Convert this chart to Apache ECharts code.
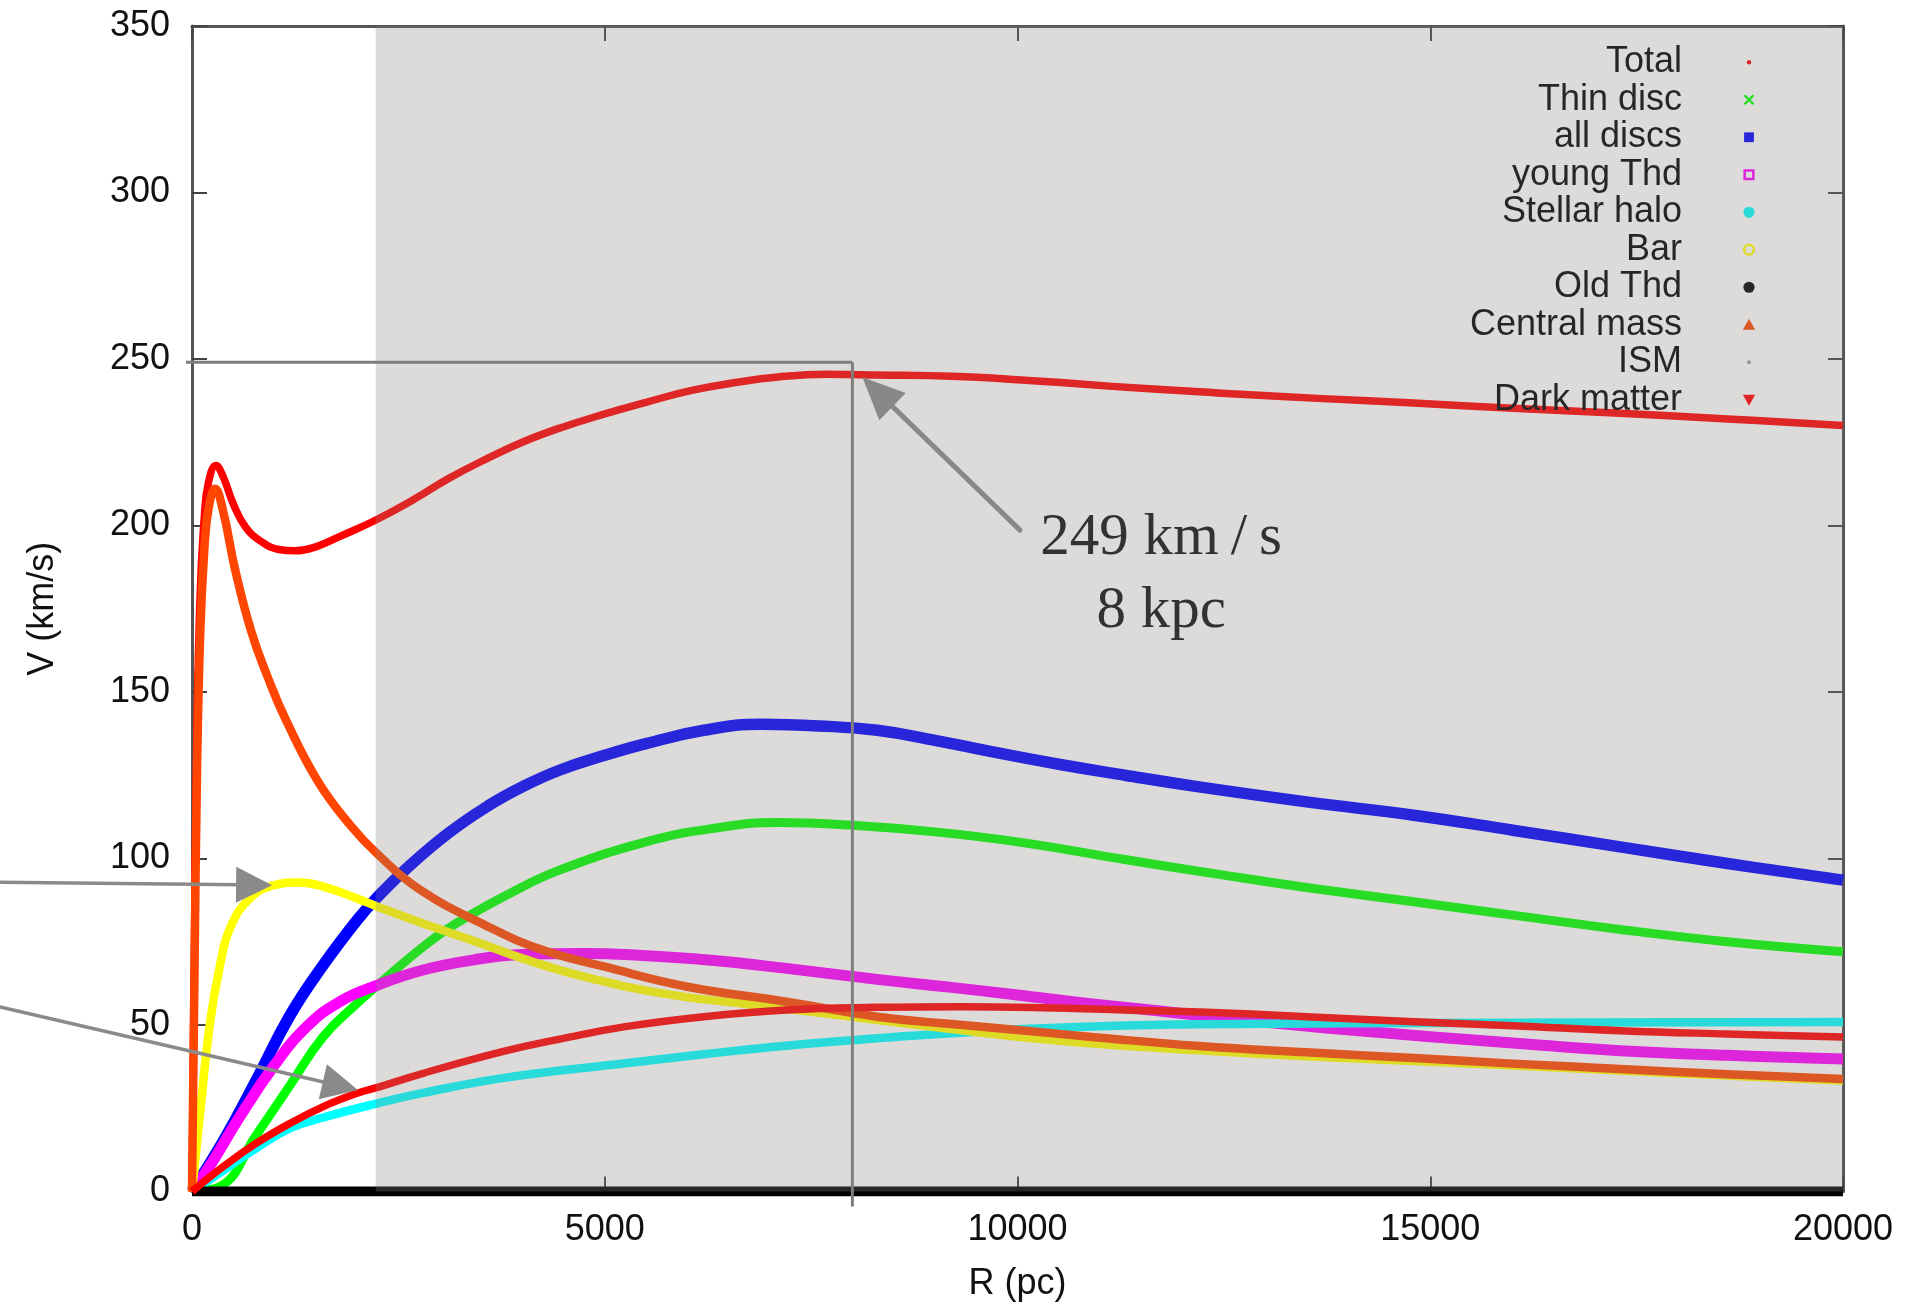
<!DOCTYPE html>
<html>
<head>
<meta charset="utf-8">
<title>Rotation curve components</title>
<script src="https://cdn.jsdelivr.net/npm/echarts@6/dist/echarts.min.js"></script>
<style>
  html, body { margin: 0; padding: 0; background: #ffffff; }
  #chart { width: 1920px; height: 1305px; }
</style>
</head>
<body>
<div id="chart"></div>
<script>
// Circular velocity V (km/s) against galactocentric radius R (pc), one [R, V] list per component.
const total = [[0,0],[30,75],[60,140],[100,180],[150,203],[200,213],[290,218],[380,214.5],[500,206.5],[650,199.5],[850,195],[1050,192.8],[1250,192.4],[1500,193.6],[1800,196.8],[2240,201.8],[2700,208],[3100,214],[3550,219.8],[4000,225],[4460,229.3],[5000,233.5],[5500,237],[6040,240.5],[6600,243],[7100,244.6],[7700,245.4],[8300,245.2],[9200,244.8],[10000,243.8],[10800,242.4],[11500,241.2],[12200,240.2],[12700,239.4],[13700,238.1],[14800,236.8],[16000,235.2],[17300,233.7],[18600,232],[20000,230]];
const thinDisc = [[0,0],[340,1.5],[780,17],[1190,32],[1590,46.5],[2000,56.5],[2250,62],[2800,73.5],[3200,80.5],[3850,89.5],[4450,96.5],[5500,105],[6300,109],[7100,110.8],[8000,110],[9000,108],[10000,105],[11300,99.7],[12500,95],[13500,91.3],[14800,87],[16000,83],[17300,78.7],[18600,75],[20000,72]];
const allDiscs = [[0,0],[400,16],[780,33.5],[1190,53],[1590,68],[2000,81.5],[2250,88.5],[2600,97],[3100,107.5],[3600,116],[4000,121.5],[4450,126.5],[5000,131],[5500,134.5],[6200,138.5],[6900,140.3],[7600,139.8],[8300,138.5],[9000,135.5],[9700,132],[10500,128.3],[11300,125],[12200,121.5],[13500,117],[14800,113],[16000,108.5],[17300,103.5],[18600,98.5],[20000,93.5]];
const youngThd = [[0,0],[250,9],[580,22.5],[985,37.5],[1390,49.5],[1790,57],[2250,62],[2800,66.5],[3400,69.5],[4000,71.2],[4750,71.5],[5500,70.8],[6250,69.5],[7200,67],[8300,63.7],[9200,61.3],[10000,59],[10800,56.6],[11800,54],[12700,51.6],[13700,49.2],[15000,46.5],[16200,44.2],[17300,42.3],[18600,40.9],[20000,39.8]];
const stellarHalo = [[0,0],[380,6.3],[780,13],[1190,19],[1600,22.3],[2250,26.5],[2800,29.6],[3800,34.2],[5250,38.5],[6300,41.5],[7200,43.8],[8300,46],[9200,47.5],[10000,48.7],[11000,49.6],[12200,50.2],[14000,50.5],[16000,50.7],[18000,50.8],[20000,50.9]];
const bar = [[0,0],[100,24],[220,51],[340,68],[460,79],[700,88],[1000,92],[1300,92.8],[1600,91.5],[2000,88],[2250,85.5],[2800,80.5],[3500,74.5],[4000,70],[4750,64.5],[5700,59.5],[6700,56.3],[7500,54],[8300,51.5],[9200,48.8],[10000,46.5],[11000,44.3],[12200,42.4],[13500,40.6],[14800,39.2],[16000,37.8],[17300,36.3],[18600,34.8],[20000,33.3]];
const oldThd = [[0,0],[20000,0]];
const centralMass = [[0,0],[30,65],[60,125],[100,168],[150,193],[200,205],[280,211],[380,204],[520,187],[720,168],[925,154],[1130,142],[1530,123],[1935,109.5],[2240,101.5],[2740,91],[3550,80],[4250,72.5],[5000,67.5],[6000,61.5],[7200,57],[8300,52.5],[9200,50.3],[10000,48.5],[11000,46.2],[12200,43.7],[13500,41.8],[14800,40.1],[16000,38.4],[17300,36.8],[18600,35.2],[20000,33.8]];
const ism = [[0,0],[20000,0]];
const darkMatter = [[0,0],[380,7.5],[780,14.5],[1190,20.5],[1590,25.5],[2000,29.5],[2280,31.5],[2800,35.5],[3760,42],[4500,46],[5250,49.5],[6200,52.5],[7200,54.5],[8300,55.3],[9300,55.5],[10300,55.2],[11300,54.5],[12300,53.8],[13500,52.5],[14800,51],[16000,49.8],[17300,48.3],[18600,47.3],[20000,46.4]];

// Axis ranges and ticks
const R_MIN = 0, R_MAX = 20000, R_STEP = 5000;
const V_MIN = 0, V_MAX = 350, V_STEP = 50;

// Shaded radial range (outer Galaxy)
const shadeRange = [[2225, 20000]];

// Solar circle marker: radius (pc) and circular speed (km/s)
const SUN_R = 8000;
const SUN_V = 249;
const sunNote = [SUN_V + ' km\u2009/\u2009s', (SUN_R / 1000) + ' kpc'];
const sunNoteAt = [[11740, 185]];          // centre of the two-line note
const sunArrowFrom = [10030, 198.6];       // tail of the arrow pointing at the marker

// Arrows coming in from the left margin: [R0, V0, R1, V1] (tail -> head)
const sideArrows = [
  [-2326, 92.9, 970, 92],      // at the bar peak
  [-2326, 55.4, 2010, 30.5]    // at the dark matter curve
];

const FONT = '"Liberation Sans", Arial, Helvetica, sans-serif';
const SERIF = '"Liberation Serif", "DejaVu Serif", serif';

const components = [
  { name: 'Total',        data: total,       color: '#ff0000', width: 7.5 },
  { name: 'Thin disc',    data: thinDisc,    color: '#00ff00', width: 9 },
  { name: 'all discs',    data: allDiscs,    color: '#0000ff', width: 11.5 },
  { name: 'young Thd',    data: youngThd,    color: '#ff00ff', width: 11 },
  { name: 'Stellar halo', data: stellarHalo, color: '#00ffff', width: 8.5 },
  { name: 'Bar',          data: bar,         color: '#ffff00', width: 8.5 },
  { name: 'Old Thd',      data: oldThd,      color: '#000000', width: 10 },
  { name: 'Central mass', data: centralMass, color: '#ff4500', width: 8.5 },
  { name: 'ISM',          data: ism,         color: '#9a9a9a', width: 2 },
  { name: 'Dark matter',  data: darkMatter,  color: '#ff0000', width: 7.5 }
];

// Small point-style legend keys; the M0,0 M10,10 moves fix a common 10x10 frame.
const FRAME = 'path://M0,0M10,10';
const legendIcons = {
  'Total':        FRAME + 'M3.4,5A1.6,1.6 0 1,1 6.6,5A1.6,1.6 0 1,1 3.4,5Z',
  'Thin disc':    FRAME + 'M1.2,2.4L2.4,1.2L5,3.8L7.6,1.2L8.8,2.4L6.2,5L8.8,7.6L7.6,8.8L5,6.2L2.4,8.8L1.2,7.6L3.8,5Z',
  'all discs':    FRAME + 'M1.5,1.5L8.5,1.5L8.5,8.5L1.5,8.5Z',
  'young Thd':    FRAME + 'M1,1L9,1L9,9L1,9ZM2.8,2.8L2.8,7.2L7.2,7.2L7.2,2.8Z',
  'Stellar halo': FRAME + 'M1,5A4,4 0 1,1 9,5A4,4 0 1,1 1,5Z',
  'Bar':          FRAME + 'M0.6,5A4.4,4.4 0 1,1 9.4,5A4.4,4.4 0 1,1 0.6,5ZM2.4,5A2.6,2.6 0 1,0 7.6,5A2.6,2.6 0 1,0 2.4,5Z',
  'Old Thd':      FRAME + 'M1,5A4,4 0 1,1 9,5A4,4 0 1,1 1,5Z',
  'Central mass': FRAME + 'M5,0.8L9.4,8.6L0.6,8.6Z',
  'ISM':          FRAME + 'M3.6,5A1.4,1.4 0 1,1 6.4,5A1.4,1.4 0 1,1 3.6,5Z',
  'Dark matter':  FRAME + 'M0.6,1.4L9.4,1.4L5,9.2Z'
};

const lineSeries = components.map((c, i) => ({
  type: 'line',
  name: c.name,
  data: c.data,
  showSymbol: false,
  symbol: 'none',
  smooth: 0.45,
  silent: true,
  z: c.name === 'ISM' ? 2 : 3 + i,
  lineStyle: { color: c.color, width: c.width, cap: 'butt', join: 'round' },
  itemStyle: { color: c.color },
  emphasis: { disabled: true }
}));

const ARROW_GREY = '#8a8a8a';

function arrowShapes(a, b, shaftWidth, headLen, headHalf) {
  const dx = b[0] - a[0], dy = b[1] - a[1];
  const len = Math.hypot(dx, dy);
  const ux = dx / len, uy = dy / len;
  const nx = -uy, ny = ux;
  const bx = b[0] - ux * headLen, by = b[1] - uy * headLen;
  return [
    { type: 'line', shape: { x1: a[0], y1: a[1], x2: bx + ux * 4, y2: by + uy * 4 },
      style: { stroke: ARROW_GREY, lineWidth: shaftWidth, lineCap: 'round' } },
    { type: 'polygon', shape: { points: [[b[0], b[1]], [bx + nx * headHalf, by + ny * headHalf], [bx - nx * headHalf, by - ny * headHalf]] },
      style: { fill: ARROW_GREY } }
  ];
}

const plainNumber = v => String(v);
const TEXT_COLOR = '#111111';

const option = {
  animation: false,
  backgroundColor: '#ffffff',
  grid: { left: 192, right: 77, top: 26, bottom: 113.5, containLabel: false, outerBoundsMode: 'none' },
  legend: {
    orient: 'vertical',
    align: 'right',
    right: 164,
    top: 43.5,
    padding: 0,
    itemGap: 0,
    itemWidth: 14,
    itemHeight: 14,
    z: 4,
    selectedMode: false,
    textStyle: { fontFamily: FONT, fontSize: 36, color: '#000000', lineHeight: 37.5, padding: [0, 55, 0, 0] },
    data: components.map(c => ({ name: c.name, icon: legendIcons[c.name], itemStyle: { color: c.color } }))
  },
  xAxis: [
    {
      type: 'value', min: R_MIN, max: R_MAX, interval: R_STEP, position: 'bottom',
      name: 'R (pc)', nameLocation: 'middle', nameGap: 75, nameMoveOverlap: false,
      nameTextStyle: { fontFamily: FONT, fontSize: 36, color: TEXT_COLOR },
      axisLine: { show: true, onZero: false, lineStyle: { color: '#555555', width: 3 } },
      axisTick: { show: true, inside: true, length: 15, lineStyle: { color: '#444444', width: 2 } },
      axisLabel: { margin: 21, fontFamily: FONT, fontSize: 36, color: TEXT_COLOR, formatter: plainNumber, showMinLabel: true, showMaxLabel: true },
      splitLine: { show: false }
    },
    {
      type: 'value', min: R_MIN, max: R_MAX, interval: R_STEP, position: 'top',
      axisLine: { show: true, onZero: false, lineStyle: { color: '#555555', width: 3 } },
      axisTick: { show: true, inside: true, length: 15, lineStyle: { color: '#444444', width: 2 } },
      axisLabel: { show: false },
      splitLine: { show: false }
    }
  ],
  yAxis: [
    {
      type: 'value', min: V_MIN, max: V_MAX, interval: V_STEP, position: 'left',
      name: 'V (km/s)', nameLocation: 'middle', nameGap: 131, nameMoveOverlap: false,
      nameTextStyle: { fontFamily: FONT, fontSize: 36, color: TEXT_COLOR },
      axisLine: { show: true, onZero: false, lineStyle: { color: '#555555', width: 3 } },
      axisTick: { show: true, inside: true, length: 15, lineStyle: { color: '#444444', width: 2 } },
      axisLabel: { margin: 22, fontFamily: FONT, fontSize: 36, color: TEXT_COLOR, formatter: plainNumber, showMinLabel: true, showMaxLabel: true },
      splitLine: { show: false }
    },
    {
      type: 'value', min: V_MIN, max: V_MAX, interval: V_STEP, position: 'right',
      axisLine: { show: true, onZero: false, lineStyle: { color: '#555555', width: 3 } },
      axisTick: { show: true, inside: true, length: 15, lineStyle: { color: '#444444', width: 2 } },
      axisLabel: { show: false },
      splitLine: { show: false }
    }
  ],
  series: lineSeries.concat([
    {
      // arrows entering from the left margin
      type: 'custom', name: 'side arrows', data: sideArrows, clip: false, silent: true, z: 15,
      encode: { x: [0, 2], y: [1, 3] },
      renderItem: (params, api) => {
        const a = api.coord([api.value(0), api.value(1)]);
        const b = api.coord([api.value(2), api.value(3)]);
        return { type: 'group', children: arrowShapes(a, b, 3.5, 36, 18) };
      }
    },
    {
      // solar circle cross-hair with its pointer arrow
      type: 'custom', name: 'sun marker', data: [[SUN_R, SUN_V]], clip: false, silent: true, z: 15,
      renderItem: (params, api) => {
        const r = api.value(0), v = api.value(1);
        const p = api.coord([r, v]);
        const axisLeft = api.coord([R_MIN, v]);
        const axisBottom = api.coord([r, V_MIN]);
        const tail = api.coord(sunArrowFrom);
        const tip = [p[0] + 10, p[1] + 15];
        const lineStyle = { stroke: '#7d7d7d', lineWidth: 3 };
        return {
          type: 'group',
          children: [
            { type: 'line', shape: { x1: axisLeft[0] - 6, y1: p[1], x2: p[0], y2: p[1] }, style: lineStyle },
            { type: 'line', shape: { x1: p[0], y1: p[1], x2: p[0], y2: axisBottom[1] + 15 }, style: lineStyle }
          ].concat(arrowShapes(tail, tip, 5, 42, 19))
        };
      }
    },
    {
      // two-line note next to the cross-hair
      type: 'custom', name: 'sun note', data: sunNoteAt, clip: false, silent: true, z: 15,
      renderItem: (params, api) => {
        const c = api.coord([api.value(0), api.value(1)]);
        return {
          type: 'text', x: c[0], y: c[1],
          style: { text: sunNote.join('\n'), fill: '#111111', fontFamily: SERIF, fontSize: 59,
                   lineHeight: 73, align: 'center', verticalAlign: 'middle' }
        };
      }
    },
    {
      // translucent grey wash over the outer radii
      type: 'custom', name: 'outer shade', data: shadeRange, clip: false, silent: true, z: 20,
      encode: { x: [0, 1] },
      renderItem: (params, api) => {
        const p0 = api.coord([api.value(0), V_MAX]);
        const p1 = api.coord([api.value(1), V_MIN]);
        return {
          type: 'rect',
          shape: { x: p0[0], y: p0[1], width: p1[0] - p0[0], height: p1[1] - p0[1] },
          style: { fill: 'rgba(138,132,128,0.29)' }
        };
      }
    }
  ])
};

const chart = echarts.init(document.getElementById('chart'), null, { renderer: 'canvas', width: 1920, height: 1305 });
chart.setOption(option);
</script>
</body>
</html>
